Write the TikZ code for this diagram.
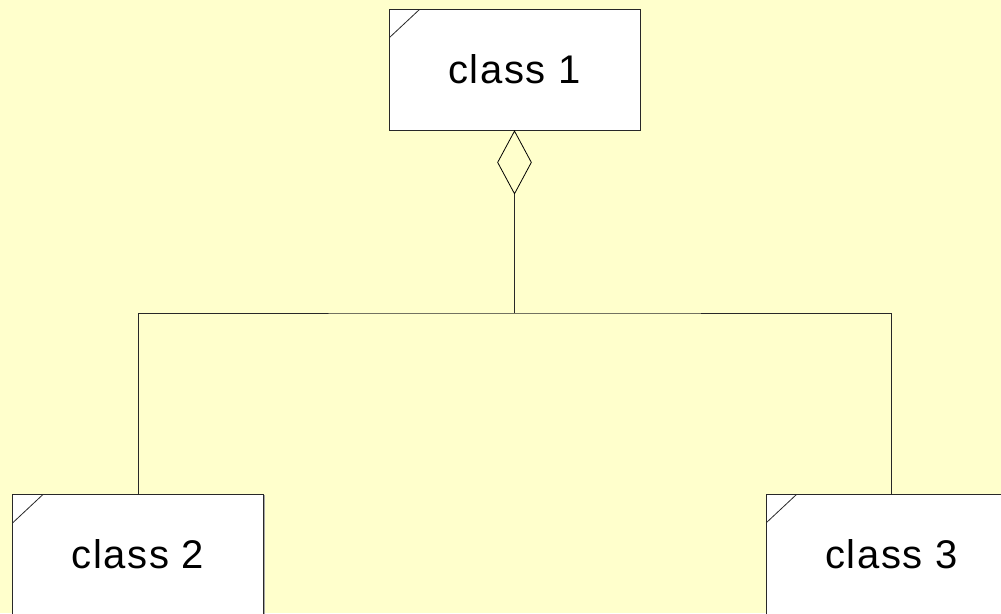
\documentclass[tikz,border=0pt]{standalone}
\usepackage{fontspec}
\setmainfont{Liberation Sans}
\usetikzlibrary{shapes.geometric,shadows}
\definecolor{bgyellow}{RGB}{255,255,204}
\definecolor{edgegray}{RGB}{40,40,40}
\tikzset{
  classbox/.style={draw=edgegray, line width=1pt, fill=white,
    minimum width=251pt, minimum height=121pt, inner sep=0pt,
    drop shadow={shadow xshift=1.2pt, shadow yshift=-1.2pt, fill=gray!70, opacity=1},
    font=\fontsize{40}{46}\selectfont\addfontfeature{LetterSpace=4},
    path picture={\draw[edgegray, line width=0.8pt]
      ([yshift=-29pt]path picture bounding box.north west) --
      ([xshift=31pt]path picture bounding box.north west);}},
  aggr/.style={diamond, draw=black, line width=0.8pt, fill=bgyellow,
    minimum width=34pt, minimum height=63pt, inner sep=0pt},
  conn/.style={draw=edgegray, line width=0.9pt}
}
\begin{document}
\begin{tikzpicture}[x=1pt,y=-1pt]
\useasboundingbox (0,0) rectangle (1001,613);
\clip (0,0) rectangle (1001,613);
\fill[bgyellow] (0,0) rectangle (1001,613);
\node[classbox] (c1) at (514.5,69.5) {class 1};
\node[classbox] (c2) at (138,554.5) {class 2};
\node[classbox] (c3) at (891.5,554.5) {class 3};
\node[aggr, anchor=north] (d) at (c1.south) {};
\coordinate (j) at (514.5,313);
\draw[conn] (d.south) -- (j);
\draw[conn] (c2.north) |- (j) -| (c3.north);
\end{tikzpicture}
\end{document}
